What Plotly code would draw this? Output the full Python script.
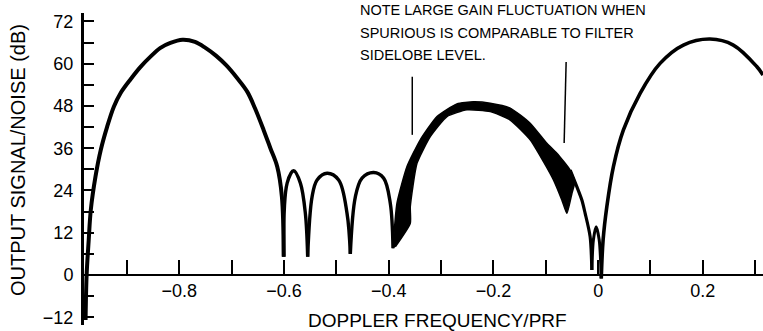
import plotly.graph_objects as go

# ---------------- data ----------------
# Left main (clutter) lobe
main_left_x = [-0.979, -0.977, -0.973, -0.969, -0.960, -0.950, -0.938, -0.925, -0.912, -0.893,
               -0.874, -0.855, -0.836, -0.817, -0.794, -0.770, -0.750, -0.730, -0.710,
               -0.690, -0.670, -0.655, -0.639, -0.626, -0.613, -0.604, -0.6006]
main_left_y = [-12.8, 0.0, 9.9, 18.5, 28.0, 35.5, 42.0, 47.8, 51.7, 55.6,
               59.1, 62.0, 64.5, 65.9, 66.8, 66.2, 64.5, 62.3, 59.5,
               56.0, 52.0, 47.2, 41.2, 36.0, 30.8, 22.2, 5.2]

# Filter sidelobes
side1_x = [-0.6006, -0.594, -0.5815, -0.5687, -0.5592, -0.5548]
side1_y = [5.2, 26.1, 29.6, 26.1, 17.5, 5.2]
side2_x = [-0.5548, -0.5464, -0.5368, -0.5177, -0.4956, -0.4796, -0.4733]
side2_y = [5.2, 22.2, 27.0, 28.9, 27.0, 17.5, 6.0]
side3_x = [-0.4733, -0.4637, -0.451, -0.4288, -0.4097, -0.397, -0.3918]
side3_y = [6.0, 22.2, 27.5, 29.1, 27.5, 20.4, 7.6]

# Fluctuating filter lobe (band): outer edge, then inner edge
band_upper_x = [-0.3918, -0.3842, -0.3651, -0.3397, -0.3078, -0.2697, -0.238, -0.2061,
                -0.1679, -0.1298, -0.0979, -0.0788, -0.0534, -0.0445]
band_upper_y = [7.6, 20.4, 30.8, 38.4, 45.0, 48.6, 49.2, 48.8,
                47.4, 43.1, 37.4, 34.6, 29.8, 26.5]
band_lower_x = [-0.050, -0.0597, -0.0693, -0.0853, -0.1044, -0.1298, -0.1679, -0.2061,
                -0.2506, -0.2887, -0.3206, -0.346, -0.3588, -0.3588, -0.3874]
band_lower_y = [23.2, 17.5, 21.3, 27.0, 32.2, 38.4, 44.0, 46.4,
                46.9, 45.0, 39.3, 31.7, 19.4, 14.7, 8.0]

# Tail into the null near zero
tail_x = [-0.0534, -0.0407, -0.0311, -0.0248, -0.0153, -0.012]
tail_y = [29.8, 25.1, 21.3, 17.5, 10.9, 1.4]

# Small lobe at zero doppler
small_x = [-0.012, -0.009, -0.0038, 0.002, 0.006]
small_y = [1.4, 10.0, 13.7, 10.0, -1.0]

# Right main lobe
main_right_x = [0.006, 0.0095, 0.0166, 0.0292, 0.0483, 0.0802, 0.1183, 0.1628,
                0.2137, 0.2582, 0.3029, 0.3149]
main_right_y = [-1.0, 10.0, 19.4, 30.8, 41.2, 51.6, 60.1, 65.3,
                67.0, 65.3, 59.2, 56.8]

x_tickvals = [-0.9, -0.8, -0.7, -0.6, -0.5, -0.4, -0.3, -0.2, -0.1, 0.0, 0.1, 0.2, 0.3]
x_ticktext = ["", "\u22120.8", "", "\u22120.6", "", "\u22120.4", "", "\u22120.2", "", "0", "", "0.2", ""]
y_tickvals = [-12, -6, 0, 6, 12, 18, 24, 30, 36, 42, 48, 54, 60, 66, 72]
y_ticktext = ["\u221212", "", "0", "", "12", "", "24", "", "36", "", "48", "", "60", "", "72"]

note_lines = ["NOTE LARGE GAIN FLUCTUATION WHEN",
              "SPURIOUS IS COMPARABLE TO FILTER",
              "SIDELOBE LEVEL."]

# ---------------- figure ----------------
FONT = "Liberation Sans, Arial, Helvetica, sans-serif"
X_RANGE = [-0.982, 0.3149]
Y_RANGE = [-14.2, 74.4]

fig = go.Figure()


def add_curve(xs, ys, width=3.6, smoothing=1.0):
    fig.add_trace(go.Scatter(
        x=xs, y=ys, mode="lines",
        line=dict(color="black", width=width, shape="spline", smoothing=smoothing),
        hoverinfo="skip", showlegend=False))


add_curve(main_left_x, main_left_y, 4)
add_curve(side1_x, side1_y, 3.4)
add_curve(side2_x, side2_y, 3.4)
add_curve(side3_x, side3_y, 3.4)

fig.add_trace(go.Scatter(
    x=band_upper_x + band_lower_x, y=band_upper_y + band_lower_y,
    mode="lines", fill="toself", fillcolor="black",
    line=dict(color="black", width=1.5, shape="spline", smoothing=0.5),
    hoverinfo="skip", showlegend=False))

add_curve(tail_x, tail_y, 3.2, 0.8)
add_curve(small_x, small_y, 3.0, 0.8)
add_curve(main_right_x, main_right_y, 3.6)

# pointer lines of the note
fig.add_shape(type="line", xref="x", yref="y", x0=-0.355, y0=56.3, x1=-0.355, y1=39.8,
              line=dict(color="black", width=1.5))
fig.add_shape(type="line", xref="x", yref="y", x0=-0.0611, y0=60.5, x1=-0.0649, y1=37.5,
              line=dict(color="black", width=1.5))

note_y = [1.0096, 0.9359, 0.8654]
for txt, yy in zip(note_lines, note_y):
    fig.add_annotation(text=txt, xref="paper", yref="paper", x=0.4035, y=yy,
                       xanchor="left", yanchor="middle", showarrow=False,
                       font=dict(family=FONT, size=14.5, color="black"))

fig.add_annotation(text="OUTPUT SIGNAL/NOISE (dB)", xref="paper", yref="paper",
                   x=-0.0972, y=0.529, textangle=-90, showarrow=False,
                   xanchor="center", yanchor="middle",
                   font=dict(family=FONT, size=20, color="black"))
fig.add_annotation(text="DOPPLER FREQUENCY/PRF", xref="paper", yref="paper",
                   x=0.5206, y=0.016, showarrow=False,
                   xanchor="center", yanchor="middle",
                   font=dict(family=FONT, size=19, color="black"))

fig.update_layout(
    width=763, height=331,
    margin=dict(l=84, r=0, t=13, b=6, pad=0),
    paper_bgcolor="white", plot_bgcolor="white",
    font=dict(family=FONT, color="black"),
    showlegend=False,
    xaxis=dict(
        range=X_RANGE, anchor="free",
        position=(0 - Y_RANGE[0]) / (Y_RANGE[1] - Y_RANGE[0]),
        showline=True, linewidth=1.8, linecolor="black",
        ticks="inside", ticklen=14, tickwidth=1.5, tickcolor="black",
        tickvals=x_tickvals, ticktext=x_ticktext,
        tickfont=dict(family=FONT, size=18, color="black"),
        showgrid=False, zeroline=False, fixedrange=True,
    ),
    yaxis=dict(
        range=Y_RANGE,
        showline=True, linewidth=3, linecolor="black",
        ticks="inside", ticklen=10, tickwidth=1.5, tickcolor="black",
        tickvals=y_tickvals, ticktext=y_ticktext,
        tickfont=dict(family=FONT, size=18, color="black"),
        ticklabelstandoff=4,
        showgrid=False, zeroline=False, fixedrange=True,
    ),
)

fig.write_html("out.html")
